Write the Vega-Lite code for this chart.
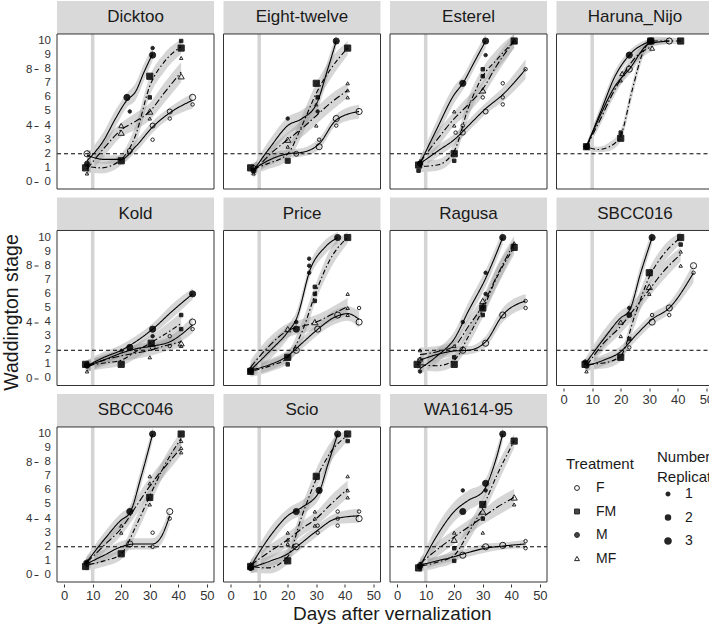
{
  "$schema": "https://vega.github.io/schema/vega-lite/v6.json",
  "padding": {"left": 2, "top": 1, "right": 2, "bottom": 2},
  "background": "white",
  "title": {"text": "Waddington stage", "orient": "left", "anchor": "middle", "fontSize": 19.5, "fontWeight": "normal", "font": "Liberation Sans", "color": "#1a1a1a", "offset": 3},
  "data": {"values": [
    {"k":"s","v":"Dicktoo"},{"k":"s","v":"Eight-twelve"},{"k":"s","v":"Esterel"},{"k":"s","v":"Haruna_Nijo"},
    {"k":"s","v":"Kold"},{"k":"s","v":"Price"},{"k":"s","v":"Ragusa"},{"k":"s","v":"SBCC016"},
    {"k":"s","v":"SBCC046"},{"k":"s","v":"Scio"},{"k":"s","v":"WA1614-95"},

    {"k":"y","v":"Dicktoo","yv":0},{"k":"y","v":"Dicktoo","yv":1},{"k":"y","v":"Dicktoo","yv":2},{"k":"y","v":"Dicktoo","yv":3},
    {"k":"y","v":"Dicktoo","yv":4},{"k":"y","v":"Dicktoo","yv":5},{"k":"y","v":"Dicktoo","yv":6},{"k":"y","v":"Dicktoo","yv":7},
    {"k":"y","v":"Dicktoo","yv":8},{"k":"y","v":"Dicktoo","yv":9},{"k":"y","v":"Dicktoo","yv":10},
    {"k":"y","v":"Kold","yv":0},{"k":"y","v":"Kold","yv":1},{"k":"y","v":"Kold","yv":2},{"k":"y","v":"Kold","yv":3},
    {"k":"y","v":"Kold","yv":4},{"k":"y","v":"Kold","yv":5},{"k":"y","v":"Kold","yv":6},{"k":"y","v":"Kold","yv":7},
    {"k":"y","v":"Kold","yv":8},{"k":"y","v":"Kold","yv":9},{"k":"y","v":"Kold","yv":10},
    {"k":"y","v":"SBCC046","yv":0},{"k":"y","v":"SBCC046","yv":1},{"k":"y","v":"SBCC046","yv":2},{"k":"y","v":"SBCC046","yv":3},
    {"k":"y","v":"SBCC046","yv":4},{"k":"y","v":"SBCC046","yv":5},{"k":"y","v":"SBCC046","yv":6},{"k":"y","v":"SBCC046","yv":7},
    {"k":"y","v":"SBCC046","yv":8},{"k":"y","v":"SBCC046","yv":9},{"k":"y","v":"SBCC046","yv":10},

    {"k":"p","v":"Dicktoo","t":"F","d":8,"s":2.0,"n":3},{"k":"p","v":"Dicktoo","t":"F","d":23,"s":2.2,"n":2},
    {"k":"p","v":"Dicktoo","t":"F","d":31,"s":4.0,"n":2},{"k":"p","v":"Dicktoo","t":"F","d":31,"s":3.0,"n":1},
    {"k":"p","v":"Dicktoo","t":"F","d":37,"s":5.0,"n":2},{"k":"p","v":"Dicktoo","t":"F","d":37,"s":4.5,"n":1},
    {"k":"p","v":"Dicktoo","t":"F","d":45,"s":6.0,"n":3},{"k":"p","v":"Dicktoo","t":"F","d":45,"s":5.5,"n":1},
    {"k":"p","v":"Dicktoo","t":"FM","d":7.5,"s":1.0,"n":3},{"k":"p","v":"Dicktoo","t":"FM","d":20,"s":1.5,"n":3},
    {"k":"p","v":"Dicktoo","t":"FM","d":30,"s":7.5,"n":3},{"k":"p","v":"Dicktoo","t":"FM","d":30,"s":6.0,"n":1},
    {"k":"p","v":"Dicktoo","t":"FM","d":41,"s":9.5,"n":3},{"k":"p","v":"Dicktoo","t":"FM","d":41,"s":10,"n":1},
    {"k":"p","v":"Dicktoo","t":"M","d":8,"s":1.3,"n":2},{"k":"p","v":"Dicktoo","t":"M","d":22,"s":6.0,"n":3},
    {"k":"p","v":"Dicktoo","t":"M","d":23,"s":5.0,"n":1},{"k":"p","v":"Dicktoo","t":"M","d":31,"s":9.0,"n":3},
    {"k":"p","v":"Dicktoo","t":"M","d":31,"s":9.5,"n":1},
    {"k":"p","v":"Dicktoo","t":"MF","d":8,"s":0.6,"n":1},{"k":"p","v":"Dicktoo","t":"MF","d":20,"s":4.0,"n":2},
    {"k":"p","v":"Dicktoo","t":"MF","d":20,"s":3.5,"n":3},{"k":"p","v":"Dicktoo","t":"MF","d":30,"s":5.0,"n":3},
    {"k":"p","v":"Dicktoo","t":"MF","d":30,"s":4.5,"n":1},{"k":"p","v":"Dicktoo","t":"MF","d":41,"s":8.8,"n":1},
    {"k":"p","v":"Dicktoo","t":"MF","d":41,"s":7.5,"n":3},

    {"k":"p","v":"Eight-twelve","t":"F","d":8,"s":1.0,"n":2},{"k":"p","v":"Eight-twelve","t":"F","d":23,"s":2.0,"n":2},
    {"k":"p","v":"Eight-twelve","t":"F","d":31,"s":2.5,"n":3},{"k":"p","v":"Eight-twelve","t":"F","d":31,"s":3.0,"n":1},
    {"k":"p","v":"Eight-twelve","t":"F","d":37,"s":4.5,"n":3},{"k":"p","v":"Eight-twelve","t":"F","d":37,"s":4.0,"n":1},
    {"k":"p","v":"Eight-twelve","t":"F","d":45,"s":5.0,"n":3},
    {"k":"p","v":"Eight-twelve","t":"FM","d":7,"s":1.0,"n":3},{"k":"p","v":"Eight-twelve","t":"FM","d":20,"s":1.5,"n":2},
    {"k":"p","v":"Eight-twelve","t":"FM","d":30,"s":7.0,"n":3},{"k":"p","v":"Eight-twelve","t":"FM","d":30.5,"s":6.0,"n":1},
    {"k":"p","v":"Eight-twelve","t":"FM","d":41,"s":9.5,"n":3},
    {"k":"p","v":"Eight-twelve","t":"M","d":8,"s":0.8,"n":2},{"k":"p","v":"Eight-twelve","t":"M","d":20,"s":4.5,"n":1},
    {"k":"p","v":"Eight-twelve","t":"M","d":30.5,"s":5.0,"n":1},{"k":"p","v":"Eight-twelve","t":"M","d":37,"s":10,"n":3},
    {"k":"p","v":"Eight-twelve","t":"MF","d":8,"s":0.6,"n":1},{"k":"p","v":"Eight-twelve","t":"MF","d":20,"s":3.0,"n":3},
    {"k":"p","v":"Eight-twelve","t":"MF","d":20,"s":2.5,"n":1},{"k":"p","v":"Eight-twelve","t":"MF","d":30,"s":4.0,"n":1},
    {"k":"p","v":"Eight-twelve","t":"MF","d":30,"s":5.5,"n":1},{"k":"p","v":"Eight-twelve","t":"MF","d":41,"s":7.0,"n":1},
    {"k":"p","v":"Eight-twelve","t":"MF","d":41,"s":6.5,"n":1},{"k":"p","v":"Eight-twelve","t":"MF","d":41,"s":6.0,"n":1},

    {"k":"p","v":"Esterel","t":"F","d":8,"s":1.3,"n":2},{"k":"p","v":"Esterel","t":"F","d":20.5,"s":3.5,"n":1},
    {"k":"p","v":"Esterel","t":"F","d":23,"s":3.5,"n":2},{"k":"p","v":"Esterel","t":"F","d":23,"s":4.0,"n":1},
    {"k":"p","v":"Esterel","t":"F","d":30,"s":6.0,"n":1},{"k":"p","v":"Esterel","t":"F","d":31,"s":5.0,"n":2},
    {"k":"p","v":"Esterel","t":"F","d":37,"s":7.0,"n":1},{"k":"p","v":"Esterel","t":"F","d":37,"s":6.0,"n":1},
    {"k":"p","v":"Esterel","t":"F","d":37,"s":5.5,"n":1},{"k":"p","v":"Esterel","t":"F","d":45,"s":8.0,"n":1},
    {"k":"p","v":"Esterel","t":"FM","d":7.5,"s":1.2,"n":3},{"k":"p","v":"Esterel","t":"FM","d":7.5,"s":0.8,"n":1},
    {"k":"p","v":"Esterel","t":"FM","d":20,"s":2.0,"n":3},{"k":"p","v":"Esterel","t":"FM","d":20,"s":1.5,"n":1},
    {"k":"p","v":"Esterel","t":"FM","d":30,"s":8.0,"n":1},{"k":"p","v":"Esterel","t":"FM","d":30,"s":7.5,"n":1},
    {"k":"p","v":"Esterel","t":"FM","d":41,"s":10,"n":3},
    {"k":"p","v":"Esterel","t":"M","d":8,"s":1.3,"n":2},{"k":"p","v":"Esterel","t":"M","d":23,"s":7.0,"n":3},
    {"k":"p","v":"Esterel","t":"M","d":31,"s":10,"n":3},{"k":"p","v":"Esterel","t":"M","d":31,"s":9.0,"n":1},
    {"k":"p","v":"Esterel","t":"MF","d":8,"s":1.5,"n":1},{"k":"p","v":"Esterel","t":"MF","d":20,"s":5.0,"n":1},
    {"k":"p","v":"Esterel","t":"MF","d":20,"s":4.0,"n":1},{"k":"p","v":"Esterel","t":"MF","d":30,"s":6.5,"n":3},
    {"k":"p","v":"Esterel","t":"MF","d":41,"s":10,"n":2},

    {"k":"p","v":"Haruna_Nijo","t":"F","d":8,"s":2.5,"n":2},{"k":"p","v":"Haruna_Nijo","t":"F","d":23,"s":8.0,"n":3},
    {"k":"p","v":"Haruna_Nijo","t":"F","d":37,"s":10,"n":3},
    {"k":"p","v":"Haruna_Nijo","t":"FM","d":8,"s":2.5,"n":3},{"k":"p","v":"Haruna_Nijo","t":"FM","d":20,"s":3.1,"n":3},
    {"k":"p","v":"Haruna_Nijo","t":"FM","d":20,"s":3.5,"n":1},{"k":"p","v":"Haruna_Nijo","t":"FM","d":30.5,"s":10,"n":3},
    {"k":"p","v":"Haruna_Nijo","t":"FM","d":41,"s":10,"n":3},
    {"k":"p","v":"Haruna_Nijo","t":"M","d":8,"s":2.5,"n":2},{"k":"p","v":"Haruna_Nijo","t":"M","d":23,"s":9.0,"n":3},
    {"k":"p","v":"Haruna_Nijo","t":"M","d":30.5,"s":10,"n":3},
    {"k":"p","v":"Haruna_Nijo","t":"MF","d":8,"s":2.5,"n":1},{"k":"p","v":"Haruna_Nijo","t":"MF","d":20,"s":7.2,"n":1},
    {"k":"p","v":"Haruna_Nijo","t":"MF","d":20.5,"s":7.7,"n":2},{"k":"p","v":"Haruna_Nijo","t":"MF","d":31,"s":9.5,"n":2},

    {"k":"p","v":"Kold","t":"F","d":8,"s":1.0,"n":2},{"k":"p","v":"Kold","t":"F","d":31,"s":2.2,"n":2},
    {"k":"p","v":"Kold","t":"F","d":37,"s":3.0,"n":1},{"k":"p","v":"Kold","t":"F","d":37,"s":2.3,"n":1},
    {"k":"p","v":"Kold","t":"F","d":45,"s":4.0,"n":3},{"k":"p","v":"Kold","t":"F","d":45,"s":3.5,"n":1},
    {"k":"p","v":"Kold","t":"FM","d":7.5,"s":1.0,"n":3},{"k":"p","v":"Kold","t":"FM","d":20,"s":1.0,"n":3},
    {"k":"p","v":"Kold","t":"FM","d":30.5,"s":2.5,"n":3},{"k":"p","v":"Kold","t":"FM","d":41,"s":4.5,"n":1},
    {"k":"p","v":"Kold","t":"FM","d":41,"s":3.5,"n":1},
    {"k":"p","v":"Kold","t":"M","d":8,"s":0.9,"n":2},{"k":"p","v":"Kold","t":"M","d":23,"s":2.2,"n":3},
    {"k":"p","v":"Kold","t":"M","d":31,"s":3.5,"n":3},{"k":"p","v":"Kold","t":"M","d":31,"s":3.0,"n":1},
    {"k":"p","v":"Kold","t":"M","d":45,"s":6.0,"n":3},
    {"k":"p","v":"Kold","t":"MF","d":8,"s":0.5,"n":1},{"k":"p","v":"Kold","t":"MF","d":20,"s":2.0,"n":1},
    {"k":"p","v":"Kold","t":"MF","d":30,"s":1.5,"n":1},{"k":"p","v":"Kold","t":"MF","d":41,"s":2.5,"n":3},
    {"k":"p","v":"Kold","t":"MF","d":41,"s":2.3,"n":1},

    {"k":"p","v":"Price","t":"F","d":7,"s":0.6,"n":2},{"k":"p","v":"Price","t":"F","d":23,"s":2.0,"n":3},
    {"k":"p","v":"Price","t":"F","d":30.5,"s":3.5,"n":3},{"k":"p","v":"Price","t":"F","d":37.5,"s":4.5,"n":3},
    {"k":"p","v":"Price","t":"F","d":45,"s":4.0,"n":3},{"k":"p","v":"Price","t":"F","d":45,"s":5.0,"n":1},
    {"k":"p","v":"Price","t":"FM","d":7,"s":0.5,"n":3},{"k":"p","v":"Price","t":"FM","d":20,"s":1.5,"n":3},
    {"k":"p","v":"Price","t":"FM","d":20,"s":1.0,"n":1},{"k":"p","v":"Price","t":"FM","d":29.5,"s":6.5,"n":1},
    {"k":"p","v":"Price","t":"FM","d":29.5,"s":6.0,"n":1},{"k":"p","v":"Price","t":"FM","d":29.5,"s":5.5,"n":1},
    {"k":"p","v":"Price","t":"FM","d":41,"s":10,"n":3},
    {"k":"p","v":"Price","t":"M","d":7,"s":0.5,"n":2},{"k":"p","v":"Price","t":"M","d":23,"s":4.0,"n":1},
    {"k":"p","v":"Price","t":"M","d":23,"s":3.5,"n":3},{"k":"p","v":"Price","t":"M","d":27.5,"s":8.5,"n":1},
    {"k":"p","v":"Price","t":"M","d":27.5,"s":8.0,"n":1},{"k":"p","v":"Price","t":"M","d":27.5,"s":7.5,"n":1},
    {"k":"p","v":"Price","t":"M","d":37.5,"s":10,"n":3},
    {"k":"p","v":"Price","t":"MF","d":7,"s":0.7,"n":1},{"k":"p","v":"Price","t":"MF","d":20,"s":3.5,"n":3},
    {"k":"p","v":"Price","t":"MF","d":29.5,"s":4.0,"n":3},{"k":"p","v":"Price","t":"MF","d":41,"s":6.0,"n":1},
    {"k":"p","v":"Price","t":"MF","d":41,"s":5.0,"n":1},{"k":"p","v":"Price","t":"MF","d":41,"s":4.5,"n":1},

    {"k":"p","v":"Ragusa","t":"F","d":8,"s":1.3,"n":2},{"k":"p","v":"Ragusa","t":"F","d":23,"s":2.0,"n":3},
    {"k":"p","v":"Ragusa","t":"F","d":31,"s":2.5,"n":3},{"k":"p","v":"Ragusa","t":"F","d":37,"s":4.5,"n":3},
    {"k":"p","v":"Ragusa","t":"F","d":45,"s":5.5,"n":1},{"k":"p","v":"Ragusa","t":"F","d":45,"s":5.0,"n":1},
    {"k":"p","v":"Ragusa","t":"FM","d":7,"s":1.0,"n":3},{"k":"p","v":"Ragusa","t":"FM","d":20,"s":1.5,"n":1},
    {"k":"p","v":"Ragusa","t":"FM","d":20,"s":1.0,"n":3},{"k":"p","v":"Ragusa","t":"FM","d":30,"s":5.0,"n":3},
    {"k":"p","v":"Ragusa","t":"FM","d":30,"s":4.5,"n":1},{"k":"p","v":"Ragusa","t":"FM","d":41,"s":9.3,"n":3},
    {"k":"p","v":"Ragusa","t":"M","d":8,"s":0.5,"n":1},{"k":"p","v":"Ragusa","t":"M","d":23,"s":4.0,"n":1},
    {"k":"p","v":"Ragusa","t":"M","d":31,"s":7.5,"n":1},{"k":"p","v":"Ragusa","t":"M","d":31,"s":6.0,"n":1},
    {"k":"p","v":"Ragusa","t":"M","d":37,"s":10,"n":3},
    {"k":"p","v":"Ragusa","t":"MF","d":8,"s":2.0,"n":1},{"k":"p","v":"Ragusa","t":"MF","d":8,"s":1.4,"n":1},
    {"k":"p","v":"Ragusa","t":"MF","d":20,"s":2.3,"n":1},{"k":"p","v":"Ragusa","t":"MF","d":30,"s":5.5,"n":3},
    {"k":"p","v":"Ragusa","t":"MF","d":41,"s":9.6,"n":1},

    {"k":"p","v":"SBCC016","t":"F","d":8,"s":0.9,"n":2},{"k":"p","v":"SBCC016","t":"F","d":23,"s":2.2,"n":1},
    {"k":"p","v":"SBCC016","t":"F","d":31,"s":4.0,"n":3},{"k":"p","v":"SBCC016","t":"F","d":31,"s":4.5,"n":1},
    {"k":"p","v":"SBCC016","t":"F","d":37,"s":5.0,"n":3},{"k":"p","v":"SBCC016","t":"F","d":37,"s":4.5,"n":1},
    {"k":"p","v":"SBCC016","t":"F","d":45.5,"s":8.0,"n":3},{"k":"p","v":"SBCC016","t":"F","d":45.5,"s":7.5,"n":1},
    {"k":"p","v":"SBCC016","t":"FM","d":7.5,"s":1.0,"n":3},{"k":"p","v":"SBCC016","t":"FM","d":20,"s":1.5,"n":3},
    {"k":"p","v":"SBCC016","t":"FM","d":23,"s":2.8,"n":1},{"k":"p","v":"SBCC016","t":"FM","d":30,"s":7.5,"n":3},
    {"k":"p","v":"SBCC016","t":"FM","d":41,"s":10,"n":3},{"k":"p","v":"SBCC016","t":"FM","d":41,"s":9.5,"n":1},
    {"k":"p","v":"SBCC016","t":"M","d":7.5,"s":1.2,"n":1},{"k":"p","v":"SBCC016","t":"M","d":23,"s":5.0,"n":1},
    {"k":"p","v":"SBCC016","t":"M","d":23,"s":4.5,"n":2},{"k":"p","v":"SBCC016","t":"M","d":31,"s":10,"n":3},
    {"k":"p","v":"SBCC016","t":"MF","d":8,"s":0.5,"n":1},{"k":"p","v":"SBCC016","t":"MF","d":20,"s":4.0,"n":2},
    {"k":"p","v":"SBCC016","t":"MF","d":20,"s":3.0,"n":1},{"k":"p","v":"SBCC016","t":"MF","d":30,"s":6.5,"n":3},
    {"k":"p","v":"SBCC016","t":"MF","d":30,"s":6.0,"n":1},{"k":"p","v":"SBCC016","t":"MF","d":41,"s":9.0,"n":1},
    {"k":"p","v":"SBCC016","t":"MF","d":41,"s":8.0,"n":1},

    {"k":"p","v":"SBCC046","t":"F","d":8,"s":0.8,"n":2},{"k":"p","v":"SBCC046","t":"F","d":23,"s":2.2,"n":3},
    {"k":"p","v":"SBCC046","t":"F","d":31,"s":3.0,"n":1},{"k":"p","v":"SBCC046","t":"F","d":31,"s":2.0,"n":1},
    {"k":"p","v":"SBCC046","t":"F","d":37,"s":4.5,"n":3},{"k":"p","v":"SBCC046","t":"F","d":37,"s":4.0,"n":1},
    {"k":"p","v":"SBCC046","t":"FM","d":7.5,"s":0.6,"n":3},{"k":"p","v":"SBCC046","t":"FM","d":20,"s":1.5,"n":3},
    {"k":"p","v":"SBCC046","t":"FM","d":30,"s":5.5,"n":3},{"k":"p","v":"SBCC046","t":"FM","d":41,"s":10,"n":3},
    {"k":"p","v":"SBCC046","t":"M","d":7.5,"s":0.9,"n":1},{"k":"p","v":"SBCC046","t":"M","d":23,"s":4.5,"n":3},
    {"k":"p","v":"SBCC046","t":"M","d":31,"s":10,"n":3},
    {"k":"p","v":"SBCC046","t":"MF","d":8,"s":1.0,"n":1},{"k":"p","v":"SBCC046","t":"MF","d":20,"s":3.5,"n":1},
    {"k":"p","v":"SBCC046","t":"MF","d":20,"s":3.0,"n":1},{"k":"p","v":"SBCC046","t":"MF","d":30,"s":7.0,"n":1},
    {"k":"p","v":"SBCC046","t":"MF","d":30,"s":6.5,"n":1},{"k":"p","v":"SBCC046","t":"MF","d":30,"s":5.0,"n":1},
    {"k":"p","v":"SBCC046","t":"MF","d":41,"s":9.5,"n":1},{"k":"p","v":"SBCC046","t":"MF","d":41,"s":9.0,"n":1},
    {"k":"p","v":"SBCC046","t":"MF","d":41,"s":8.7,"n":1},

    {"k":"p","v":"Scio","t":"F","d":7,"s":0.5,"n":2},{"k":"p","v":"Scio","t":"F","d":23,"s":2.0,"n":3},
    {"k":"p","v":"Scio","t":"F","d":30.5,"s":3.5,"n":1},{"k":"p","v":"Scio","t":"F","d":30.5,"s":3.0,"n":1},
    {"k":"p","v":"Scio","t":"F","d":37.5,"s":4.5,"n":1},{"k":"p","v":"Scio","t":"F","d":37.5,"s":4.0,"n":1},
    {"k":"p","v":"Scio","t":"F","d":37.5,"s":3.5,"n":1},{"k":"p","v":"Scio","t":"F","d":45,"s":4.0,"n":3},
    {"k":"p","v":"Scio","t":"F","d":45,"s":4.5,"n":1},
    {"k":"p","v":"Scio","t":"FM","d":7,"s":0.6,"n":3},{"k":"p","v":"Scio","t":"FM","d":20,"s":1.0,"n":3},
    {"k":"p","v":"Scio","t":"FM","d":30,"s":7.0,"n":3},{"k":"p","v":"Scio","t":"FM","d":41,"s":10,"n":3},
    {"k":"p","v":"Scio","t":"FM","d":41,"s":9.5,"n":1},
    {"k":"p","v":"Scio","t":"M","d":7,"s":0.5,"n":2},{"k":"p","v":"Scio","t":"M","d":23,"s":4.5,"n":3},
    {"k":"p","v":"Scio","t":"M","d":31,"s":6.0,"n":3},{"k":"p","v":"Scio","t":"M","d":37.5,"s":10,"n":3},
    {"k":"p","v":"Scio","t":"MF","d":7,"s":0.8,"n":1},{"k":"p","v":"Scio","t":"MF","d":20,"s":3.0,"n":1},
    {"k":"p","v":"Scio","t":"MF","d":20,"s":2.5,"n":1},{"k":"p","v":"Scio","t":"MF","d":20,"s":2.2,"n":1},
    {"k":"p","v":"Scio","t":"MF","d":29.5,"s":4.5,"n":1},{"k":"p","v":"Scio","t":"MF","d":29.5,"s":4.0,"n":1},
    {"k":"p","v":"Scio","t":"MF","d":29.5,"s":3.5,"n":1},{"k":"p","v":"Scio","t":"MF","d":41,"s":7.0,"n":1},
    {"k":"p","v":"Scio","t":"MF","d":41,"s":6.0,"n":1},{"k":"p","v":"Scio","t":"MF","d":41,"s":5.5,"n":1},

    {"k":"p","v":"WA1614-95","t":"F","d":8,"s":0.7,"n":2},{"k":"p","v":"WA1614-95","t":"F","d":23,"s":1.4,"n":3},
    {"k":"p","v":"WA1614-95","t":"F","d":31,"s":2.0,"n":3},{"k":"p","v":"WA1614-95","t":"F","d":37,"s":2.1,"n":3},
    {"k":"p","v":"WA1614-95","t":"F","d":45,"s":2.4,"n":1},{"k":"p","v":"WA1614-95","t":"F","d":45,"s":1.9,"n":1},
    {"k":"p","v":"WA1614-95","t":"FM","d":7.5,"s":0.5,"n":3},{"k":"p","v":"WA1614-95","t":"FM","d":20,"s":1.9,"n":1},
    {"k":"p","v":"WA1614-95","t":"FM","d":20,"s":1.0,"n":1},{"k":"p","v":"WA1614-95","t":"FM","d":30,"s":5.0,"n":3},
    {"k":"p","v":"WA1614-95","t":"FM","d":30,"s":4.0,"n":1},{"k":"p","v":"WA1614-95","t":"FM","d":41,"s":9.5,"n":3},
    {"k":"p","v":"WA1614-95","t":"M","d":8,"s":0.6,"n":2},{"k":"p","v":"WA1614-95","t":"M","d":23,"s":4.5,"n":3},
    {"k":"p","v":"WA1614-95","t":"M","d":23,"s":6.0,"n":1},{"k":"p","v":"WA1614-95","t":"M","d":31,"s":6.5,"n":3},
    {"k":"p","v":"WA1614-95","t":"M","d":31,"s":6.0,"n":1},{"k":"p","v":"WA1614-95","t":"M","d":37,"s":10,"n":3},
    {"k":"p","v":"WA1614-95","t":"MF","d":8,"s":0.8,"n":1},{"k":"p","v":"WA1614-95","t":"MF","d":20,"s":3.0,"n":1},
    {"k":"p","v":"WA1614-95","t":"MF","d":20,"s":2.5,"n":3},{"k":"p","v":"WA1614-95","t":"MF","d":30,"s":4.5,"n":3},
    {"k":"p","v":"WA1614-95","t":"MF","d":30,"s":3.0,"n":1},{"k":"p","v":"WA1614-95","t":"MF","d":41,"s":5.5,"n":3},
    {"k":"p","v":"WA1614-95","t":"MF","d":41,"s":5.0,"n":1},

    {"k":"f","v":"Dicktoo","t":"F","d":8,"f":1.9,"lo":1.5,"hi":2.3},{"k":"f","v":"Dicktoo","t":"F","d":14,"f":1.6,"lo":1.3,"hi":1.9},
    {"k":"f","v":"Dicktoo","t":"F","d":20,"f":1.6,"lo":1.3,"hi":1.9},{"k":"f","v":"Dicktoo","t":"F","d":25,"f":2.5,"lo":2.1,"hi":2.9},
    {"k":"f","v":"Dicktoo","t":"F","d":31,"f":3.9,"lo":3.5,"hi":4.3},{"k":"f","v":"Dicktoo","t":"F","d":37,"f":4.9,"lo":4.5,"hi":5.3},
    {"k":"f","v":"Dicktoo","t":"F","d":45,"f":5.8,"lo":5.2,"hi":6.3},
    {"k":"f","v":"Dicktoo","t":"FM","d":8,"f":1.1,"lo":0.7,"hi":1.5},{"k":"f","v":"Dicktoo","t":"FM","d":13,"f":1.0,"lo":0.6,"hi":1.4},
    {"k":"f","v":"Dicktoo","t":"FM","d":20,"f":1.6,"lo":1.2,"hi":2.0},{"k":"f","v":"Dicktoo","t":"FM","d":25,"f":3.3,"lo":2.6,"hi":4.0},
    {"k":"f","v":"Dicktoo","t":"FM","d":30,"f":6.8,"lo":6.1,"hi":7.5},{"k":"f","v":"Dicktoo","t":"FM","d":35,"f":8.5,"lo":7.8,"hi":9.1},
    {"k":"f","v":"Dicktoo","t":"FM","d":41,"f":9.6,"lo":9.1,"hi":10.1},
    {"k":"f","v":"Dicktoo","t":"M","d":8,"f":1.5,"lo":1.0,"hi":2.0},{"k":"f","v":"Dicktoo","t":"M","d":14,"f":3.0,"lo":2.4,"hi":3.6},
    {"k":"f","v":"Dicktoo","t":"M","d":18,"f":4.5,"lo":3.9,"hi":5.1},{"k":"f","v":"Dicktoo","t":"M","d":22,"f":5.8,"lo":5.3,"hi":6.3},
    {"k":"f","v":"Dicktoo","t":"M","d":25,"f":6.4,"lo":5.8,"hi":7.0},{"k":"f","v":"Dicktoo","t":"M","d":28,"f":7.8,"lo":7.2,"hi":8.4},
    {"k":"f","v":"Dicktoo","t":"M","d":31,"f":9.1,"lo":8.6,"hi":9.6},
    {"k":"f","v":"Dicktoo","t":"MF","d":8,"f":0.9,"lo":0.4,"hi":1.4},{"k":"f","v":"Dicktoo","t":"MF","d":14,"f":2.4,"lo":1.8,"hi":3.0},
    {"k":"f","v":"Dicktoo","t":"MF","d":20,"f":3.7,"lo":3.2,"hi":4.2},{"k":"f","v":"Dicktoo","t":"MF","d":25,"f":4.3,"lo":3.7,"hi":4.9},
    {"k":"f","v":"Dicktoo","t":"MF","d":30,"f":5.0,"lo":4.4,"hi":5.6},{"k":"f","v":"Dicktoo","t":"MF","d":35,"f":6.3,"lo":5.6,"hi":7.0},
    {"k":"f","v":"Dicktoo","t":"MF","d":41,"f":7.8,"lo":7.1,"hi":8.5},

    {"k":"f","v":"Eight-twelve","t":"F","d":8,"f":0.9,"lo":0.6,"hi":1.3},{"k":"f","v":"Eight-twelve","t":"F","d":14,"f":1.6,"lo":1.2,"hi":2.0},
    {"k":"f","v":"Eight-twelve","t":"F","d":20,"f":2.0,"lo":1.7,"hi":2.3},{"k":"f","v":"Eight-twelve","t":"F","d":25,"f":2.1,"lo":1.8,"hi":2.4},
    {"k":"f","v":"Eight-twelve","t":"F","d":31,"f":2.7,"lo":2.3,"hi":3.1},{"k":"f","v":"Eight-twelve","t":"F","d":37,"f":4.4,"lo":4.0,"hi":4.8},
    {"k":"f","v":"Eight-twelve","t":"F","d":45,"f":5.0,"lo":4.5,"hi":5.5},
    {"k":"f","v":"Eight-twelve","t":"FM","d":7,"f":0.9,"lo":0.5,"hi":1.3},{"k":"f","v":"Eight-twelve","t":"FM","d":13,"f":1.3,"lo":0.9,"hi":1.7},
    {"k":"f","v":"Eight-twelve","t":"FM","d":20,"f":2.0,"lo":1.5,"hi":2.5},{"k":"f","v":"Eight-twelve","t":"FM","d":25,"f":4.0,"lo":3.3,"hi":4.7},
    {"k":"f","v":"Eight-twelve","t":"FM","d":30,"f":6.3,"lo":5.6,"hi":7.0},{"k":"f","v":"Eight-twelve","t":"FM","d":35,"f":8.0,"lo":7.3,"hi":8.7},
    {"k":"f","v":"Eight-twelve","t":"FM","d":41,"f":9.5,"lo":9.0,"hi":10.0},
    {"k":"f","v":"Eight-twelve","t":"M","d":8,"f":0.8,"lo":0.4,"hi":1.2},{"k":"f","v":"Eight-twelve","t":"M","d":14,"f":2.5,"lo":1.9,"hi":3.1},
    {"k":"f","v":"Eight-twelve","t":"M","d":20,"f":4.0,"lo":3.4,"hi":4.6},{"k":"f","v":"Eight-twelve","t":"M","d":25,"f":4.5,"lo":3.9,"hi":5.1},
    {"k":"f","v":"Eight-twelve","t":"M","d":30,"f":5.5,"lo":4.9,"hi":6.1},{"k":"f","v":"Eight-twelve","t":"M","d":34,"f":8.0,"lo":7.4,"hi":8.6},
    {"k":"f","v":"Eight-twelve","t":"M","d":37,"f":10,"lo":9.5,"hi":10.5},
    {"k":"f","v":"Eight-twelve","t":"MF","d":8,"f":0.7,"lo":0.3,"hi":1.1},{"k":"f","v":"Eight-twelve","t":"MF","d":14,"f":2.0,"lo":1.5,"hi":2.5},
    {"k":"f","v":"Eight-twelve","t":"MF","d":20,"f":3.0,"lo":2.5,"hi":3.5},{"k":"f","v":"Eight-twelve","t":"MF","d":25,"f":3.8,"lo":3.2,"hi":4.4},
    {"k":"f","v":"Eight-twelve","t":"MF","d":30,"f":4.7,"lo":4.1,"hi":5.3},{"k":"f","v":"Eight-twelve","t":"MF","d":35,"f":5.6,"lo":5.0,"hi":6.2},
    {"k":"f","v":"Eight-twelve","t":"MF","d":41,"f":6.5,"lo":6.0,"hi":7.0},

    {"k":"f","v":"Esterel","t":"F","d":8,"f":1.3,"lo":0.9,"hi":1.7},{"k":"f","v":"Esterel","t":"F","d":15,"f":2.3,"lo":1.9,"hi":2.7},
    {"k":"f","v":"Esterel","t":"F","d":20,"f":3.0,"lo":2.6,"hi":3.4},{"k":"f","v":"Esterel","t":"F","d":25,"f":4.0,"lo":3.6,"hi":4.4},
    {"k":"f","v":"Esterel","t":"F","d":31,"f":5.2,"lo":4.8,"hi":5.6},{"k":"f","v":"Esterel","t":"F","d":37,"f":6.2,"lo":5.7,"hi":6.7},
    {"k":"f","v":"Esterel","t":"F","d":45,"f":8.0,"lo":7.3,"hi":8.7},
    {"k":"f","v":"Esterel","t":"FM","d":8,"f":1.1,"lo":0.7,"hi":1.5},{"k":"f","v":"Esterel","t":"FM","d":14,"f":1.2,"lo":0.8,"hi":1.6},
    {"k":"f","v":"Esterel","t":"FM","d":20,"f":2.2,"lo":1.7,"hi":2.7},{"k":"f","v":"Esterel","t":"FM","d":25,"f":5.3,"lo":4.6,"hi":6.0},
    {"k":"f","v":"Esterel","t":"FM","d":30,"f":7.5,"lo":6.9,"hi":8.1},{"k":"f","v":"Esterel","t":"FM","d":35,"f":8.7,"lo":8.0,"hi":9.4},
    {"k":"f","v":"Esterel","t":"FM","d":41,"f":10,"lo":9.5,"hi":10.5},
    {"k":"f","v":"Esterel","t":"M","d":8,"f":1.3,"lo":0.9,"hi":1.7},{"k":"f","v":"Esterel","t":"M","d":14,"f":3.8,"lo":3.2,"hi":4.4},
    {"k":"f","v":"Esterel","t":"M","d":20,"f":6.2,"lo":5.6,"hi":6.8},{"k":"f","v":"Esterel","t":"M","d":23,"f":7.0,"lo":6.5,"hi":7.5},
    {"k":"f","v":"Esterel","t":"M","d":27,"f":8.5,"lo":8.0,"hi":9.0},{"k":"f","v":"Esterel","t":"M","d":31,"f":10,"lo":9.5,"hi":10.5},
    {"k":"f","v":"Esterel","t":"MF","d":8,"f":1.4,"lo":1.0,"hi":1.8},{"k":"f","v":"Esterel","t":"MF","d":14,"f":3.0,"lo":2.4,"hi":3.6},
    {"k":"f","v":"Esterel","t":"MF","d":20,"f":4.5,"lo":4.0,"hi":5.0},{"k":"f","v":"Esterel","t":"MF","d":25,"f":5.5,"lo":4.9,"hi":6.1},
    {"k":"f","v":"Esterel","t":"MF","d":30,"f":6.6,"lo":6.1,"hi":7.1},{"k":"f","v":"Esterel","t":"MF","d":35,"f":8.3,"lo":7.7,"hi":8.9},
    {"k":"f","v":"Esterel","t":"MF","d":41,"f":10,"lo":9.5,"hi":10.5},

    {"k":"f","v":"Haruna_Nijo","t":"F","d":8,"f":2.5,"lo":2.3,"hi":2.7},{"k":"f","v":"Haruna_Nijo","t":"F","d":13,"f":4.8,"lo":4.4,"hi":5.2},
    {"k":"f","v":"Haruna_Nijo","t":"F","d":18,"f":6.8,"lo":6.4,"hi":7.2},{"k":"f","v":"Haruna_Nijo","t":"F","d":23,"f":8.0,"lo":7.6,"hi":8.4},
    {"k":"f","v":"Haruna_Nijo","t":"F","d":30,"f":9.8,"lo":9.5,"hi":10.1},{"k":"f","v":"Haruna_Nijo","t":"F","d":37,"f":10,"lo":9.8,"hi":10.2},
    {"k":"f","v":"Haruna_Nijo","t":"FM","d":8,"f":2.5,"lo":2.3,"hi":2.7},{"k":"f","v":"Haruna_Nijo","t":"FM","d":12,"f":2.3,"lo":2.1,"hi":2.5},
    {"k":"f","v":"Haruna_Nijo","t":"FM","d":16,"f":2.5,"lo":2.2,"hi":2.8},{"k":"f","v":"Haruna_Nijo","t":"FM","d":20,"f":3.3,"lo":2.9,"hi":3.7},
    {"k":"f","v":"Haruna_Nijo","t":"FM","d":24,"f":6.5,"lo":6.0,"hi":7.0},{"k":"f","v":"Haruna_Nijo","t":"FM","d":28,"f":9.3,"lo":8.9,"hi":9.7},
    {"k":"f","v":"Haruna_Nijo","t":"FM","d":31,"f":10,"lo":9.7,"hi":10.3},{"k":"f","v":"Haruna_Nijo","t":"FM","d":41,"f":10,"lo":9.8,"hi":10.2},
    {"k":"f","v":"Haruna_Nijo","t":"M","d":8,"f":2.5,"lo":2.3,"hi":2.7},{"k":"f","v":"Haruna_Nijo","t":"M","d":13,"f":5.0,"lo":4.6,"hi":5.4},
    {"k":"f","v":"Haruna_Nijo","t":"M","d":18,"f":7.5,"lo":7.1,"hi":7.9},{"k":"f","v":"Haruna_Nijo","t":"M","d":23,"f":9.0,"lo":8.7,"hi":9.3},
    {"k":"f","v":"Haruna_Nijo","t":"M","d":30.5,"f":10,"lo":9.8,"hi":10.2},
    {"k":"f","v":"Haruna_Nijo","t":"MF","d":8,"f":2.5,"lo":2.3,"hi":2.7},{"k":"f","v":"Haruna_Nijo","t":"MF","d":13,"f":4.5,"lo":4.1,"hi":4.9},
    {"k":"f","v":"Haruna_Nijo","t":"MF","d":17,"f":6.2,"lo":5.8,"hi":6.6},{"k":"f","v":"Haruna_Nijo","t":"MF","d":20,"f":7.3,"lo":6.9,"hi":7.7},
    {"k":"f","v":"Haruna_Nijo","t":"MF","d":25,"f":8.8,"lo":8.4,"hi":9.2},{"k":"f","v":"Haruna_Nijo","t":"MF","d":31,"f":9.6,"lo":9.3,"hi":9.9},

    {"k":"f","v":"Kold","t":"F","d":8,"f":0.9,"lo":0.5,"hi":1.3},{"k":"f","v":"Kold","t":"F","d":15,"f":1.4,"lo":1.1,"hi":1.7},
    {"k":"f","v":"Kold","t":"F","d":20,"f":1.8,"lo":1.5,"hi":2.1},{"k":"f","v":"Kold","t":"F","d":25,"f":2.1,"lo":1.8,"hi":2.4},
    {"k":"f","v":"Kold","t":"F","d":31,"f":2.3,"lo":2.0,"hi":2.6},{"k":"f","v":"Kold","t":"F","d":37,"f":2.6,"lo":2.2,"hi":3.0},
    {"k":"f","v":"Kold","t":"F","d":45,"f":3.8,"lo":3.2,"hi":4.4},
    {"k":"f","v":"Kold","t":"FM","d":7.5,"f":0.9,"lo":0.5,"hi":1.3},{"k":"f","v":"Kold","t":"FM","d":14,"f":1.1,"lo":0.7,"hi":1.5},
    {"k":"f","v":"Kold","t":"FM","d":20,"f":1.3,"lo":0.9,"hi":1.7},{"k":"f","v":"Kold","t":"FM","d":25,"f":1.9,"lo":1.4,"hi":2.4},
    {"k":"f","v":"Kold","t":"FM","d":30,"f":2.5,"lo":2.0,"hi":3.0},{"k":"f","v":"Kold","t":"FM","d":35,"f":3.1,"lo":2.5,"hi":3.7},
    {"k":"f","v":"Kold","t":"FM","d":41,"f":3.9,"lo":3.1,"hi":4.7},
    {"k":"f","v":"Kold","t":"M","d":8,"f":0.9,"lo":0.5,"hi":1.3},{"k":"f","v":"Kold","t":"M","d":14,"f":1.5,"lo":1.1,"hi":1.9},
    {"k":"f","v":"Kold","t":"M","d":20,"f":2.0,"lo":1.6,"hi":2.4},{"k":"f","v":"Kold","t":"M","d":25,"f":2.6,"lo":2.2,"hi":3.0},
    {"k":"f","v":"Kold","t":"M","d":31,"f":3.5,"lo":3.1,"hi":3.9},{"k":"f","v":"Kold","t":"M","d":38,"f":4.8,"lo":4.3,"hi":5.3},
    {"k":"f","v":"Kold","t":"M","d":45,"f":6.0,"lo":5.6,"hi":6.4},
    {"k":"f","v":"Kold","t":"MF","d":8,"f":0.8,"lo":0.4,"hi":1.2},{"k":"f","v":"Kold","t":"MF","d":14,"f":1.3,"lo":0.9,"hi":1.7},
    {"k":"f","v":"Kold","t":"MF","d":20,"f":1.6,"lo":1.2,"hi":2.0},{"k":"f","v":"Kold","t":"MF","d":25,"f":1.8,"lo":1.4,"hi":2.2},
    {"k":"f","v":"Kold","t":"MF","d":30,"f":2.0,"lo":1.6,"hi":2.4},{"k":"f","v":"Kold","t":"MF","d":35,"f":2.3,"lo":1.9,"hi":2.7},
    {"k":"f","v":"Kold","t":"MF","d":41,"f":2.6,"lo":2.2,"hi":3.0},

    {"k":"f","v":"Price","t":"F","d":7,"f":0.6,"lo":0.2,"hi":1.0},{"k":"f","v":"Price","t":"F","d":14,"f":1.0,"lo":0.6,"hi":1.4},
    {"k":"f","v":"Price","t":"F","d":20,"f":1.6,"lo":1.2,"hi":2.0},{"k":"f","v":"Price","t":"F","d":25,"f":2.5,"lo":2.1,"hi":2.9},
    {"k":"f","v":"Price","t":"F","d":30,"f":3.4,"lo":3.0,"hi":3.8},{"k":"f","v":"Price","t":"F","d":37,"f":4.4,"lo":3.9,"hi":4.9},
    {"k":"f","v":"Price","t":"F","d":41,"f":4.6,"lo":4.1,"hi":5.1},{"k":"f","v":"Price","t":"F","d":45,"f":4.2,"lo":3.6,"hi":4.8},
    {"k":"f","v":"Price","t":"FM","d":7,"f":0.5,"lo":0.1,"hi":0.9},{"k":"f","v":"Price","t":"FM","d":14,"f":0.9,"lo":0.5,"hi":1.3},
    {"k":"f","v":"Price","t":"FM","d":20,"f":1.5,"lo":1.1,"hi":1.9},{"k":"f","v":"Price","t":"FM","d":25,"f":3.3,"lo":2.6,"hi":4.0},
    {"k":"f","v":"Price","t":"FM","d":30,"f":6.2,"lo":5.6,"hi":6.8},{"k":"f","v":"Price","t":"FM","d":35,"f":8.5,"lo":7.8,"hi":9.2},
    {"k":"f","v":"Price","t":"FM","d":41,"f":10,"lo":9.6,"hi":10.4},
    {"k":"f","v":"Price","t":"M","d":7,"f":0.6,"lo":0.2,"hi":1.0},{"k":"f","v":"Price","t":"M","d":14,"f":2.0,"lo":1.4,"hi":2.6},
    {"k":"f","v":"Price","t":"M","d":20,"f":3.3,"lo":2.8,"hi":3.8},{"k":"f","v":"Price","t":"M","d":23,"f":4.2,"lo":3.7,"hi":4.7},
    {"k":"f","v":"Price","t":"M","d":28,"f":7.8,"lo":7.3,"hi":8.3},{"k":"f","v":"Price","t":"M","d":33,"f":9.3,"lo":8.8,"hi":9.8},
    {"k":"f","v":"Price","t":"M","d":37.5,"f":10,"lo":9.6,"hi":10.4},
    {"k":"f","v":"Price","t":"MF","d":7,"f":0.8,"lo":0.3,"hi":1.3},{"k":"f","v":"Price","t":"MF","d":13,"f":2.2,"lo":1.6,"hi":2.8},
    {"k":"f","v":"Price","t":"MF","d":20,"f":3.4,"lo":2.9,"hi":3.9},{"k":"f","v":"Price","t":"MF","d":25,"f":3.7,"lo":3.2,"hi":4.2},
    {"k":"f","v":"Price","t":"MF","d":30,"f":4.0,"lo":3.5,"hi":4.5},{"k":"f","v":"Price","t":"MF","d":35,"f":4.5,"lo":4.0,"hi":5.0},
    {"k":"f","v":"Price","t":"MF","d":41,"f":5.1,"lo":4.5,"hi":5.7},

    {"k":"f","v":"Ragusa","t":"F","d":8,"f":1.3,"lo":0.9,"hi":1.7},{"k":"f","v":"Ragusa","t":"F","d":14,"f":1.7,"lo":1.3,"hi":2.1},
    {"k":"f","v":"Ragusa","t":"F","d":20,"f":1.95,"lo":1.6,"hi":2.3},{"k":"f","v":"Ragusa","t":"F","d":25,"f":2.0,"lo":1.7,"hi":2.3},
    {"k":"f","v":"Ragusa","t":"F","d":31,"f":2.6,"lo":2.2,"hi":3.0},{"k":"f","v":"Ragusa","t":"F","d":37,"f":4.5,"lo":4.0,"hi":5.0},
    {"k":"f","v":"Ragusa","t":"F","d":45,"f":5.5,"lo":5.0,"hi":6.0},
    {"k":"f","v":"Ragusa","t":"FM","d":7,"f":1.0,"lo":0.6,"hi":1.4},{"k":"f","v":"Ragusa","t":"FM","d":14,"f":0.9,"lo":0.5,"hi":1.3},
    {"k":"f","v":"Ragusa","t":"FM","d":20,"f":1.3,"lo":0.9,"hi":1.7},{"k":"f","v":"Ragusa","t":"FM","d":25,"f":3.0,"lo":2.4,"hi":3.6},
    {"k":"f","v":"Ragusa","t":"FM","d":30,"f":4.9,"lo":4.3,"hi":5.5},{"k":"f","v":"Ragusa","t":"FM","d":35,"f":7.2,"lo":6.5,"hi":7.9},
    {"k":"f","v":"Ragusa","t":"FM","d":41,"f":9.3,"lo":8.8,"hi":9.8},
    {"k":"f","v":"Ragusa","t":"M","d":8,"f":0.7,"lo":0.3,"hi":1.1},{"k":"f","v":"Ragusa","t":"M","d":14,"f":1.6,"lo":1.1,"hi":2.1},
    {"k":"f","v":"Ragusa","t":"M","d":20,"f":2.8,"lo":2.3,"hi":3.3},{"k":"f","v":"Ragusa","t":"M","d":25,"f":4.8,"lo":4.2,"hi":5.4},
    {"k":"f","v":"Ragusa","t":"M","d":31,"f":7.1,"lo":6.5,"hi":7.7},{"k":"f","v":"Ragusa","t":"M","d":37,"f":10,"lo":9.5,"hi":10.5},
    {"k":"f","v":"Ragusa","t":"MF","d":8,"f":1.7,"lo":1.2,"hi":2.2},{"k":"f","v":"Ragusa","t":"MF","d":14,"f":1.9,"lo":1.5,"hi":2.3},
    {"k":"f","v":"Ragusa","t":"MF","d":20,"f":2.3,"lo":1.9,"hi":2.7},{"k":"f","v":"Ragusa","t":"MF","d":25,"f":3.7,"lo":3.1,"hi":4.3},
    {"k":"f","v":"Ragusa","t":"MF","d":30,"f":5.2,"lo":4.6,"hi":5.8},{"k":"f","v":"Ragusa","t":"MF","d":35,"f":7.3,"lo":6.6,"hi":8.0},
    {"k":"f","v":"Ragusa","t":"MF","d":41,"f":9.6,"lo":9.1,"hi":10.1},

    {"k":"f","v":"SBCC016","t":"F","d":8,"f":0.9,"lo":0.5,"hi":1.3},{"k":"f","v":"SBCC016","t":"F","d":14,"f":1.3,"lo":0.9,"hi":1.7},
    {"k":"f","v":"SBCC016","t":"F","d":20,"f":1.9,"lo":1.5,"hi":2.3},{"k":"f","v":"SBCC016","t":"F","d":25,"f":3.0,"lo":2.6,"hi":3.4},
    {"k":"f","v":"SBCC016","t":"F","d":31,"f":4.2,"lo":3.8,"hi":4.6},{"k":"f","v":"SBCC016","t":"F","d":37,"f":5.0,"lo":4.6,"hi":5.4},
    {"k":"f","v":"SBCC016","t":"F","d":45.5,"f":7.5,"lo":6.8,"hi":8.2},
    {"k":"f","v":"SBCC016","t":"FM","d":7.5,"f":1.0,"lo":0.6,"hi":1.4},{"k":"f","v":"SBCC016","t":"FM","d":14,"f":1.1,"lo":0.7,"hi":1.5},
    {"k":"f","v":"SBCC016","t":"FM","d":20,"f":1.6,"lo":1.2,"hi":2.0},{"k":"f","v":"SBCC016","t":"FM","d":25,"f":4.5,"lo":3.8,"hi":5.2},
    {"k":"f","v":"SBCC016","t":"FM","d":30,"f":7.2,"lo":6.6,"hi":7.8},{"k":"f","v":"SBCC016","t":"FM","d":35,"f":8.8,"lo":8.2,"hi":9.4},
    {"k":"f","v":"SBCC016","t":"FM","d":41,"f":10,"lo":9.6,"hi":10.4},
    {"k":"f","v":"SBCC016","t":"M","d":7.5,"f":1.0,"lo":0.6,"hi":1.4},{"k":"f","v":"SBCC016","t":"M","d":14,"f":2.8,"lo":2.2,"hi":3.4},
    {"k":"f","v":"SBCC016","t":"M","d":20,"f":4.3,"lo":3.8,"hi":4.8},{"k":"f","v":"SBCC016","t":"M","d":23,"f":4.8,"lo":4.3,"hi":5.3},
    {"k":"f","v":"SBCC016","t":"M","d":27,"f":7.5,"lo":6.9,"hi":8.1},{"k":"f","v":"SBCC016","t":"M","d":31,"f":10,"lo":9.5,"hi":10.5},
    {"k":"f","v":"SBCC016","t":"MF","d":8,"f":0.9,"lo":0.5,"hi":1.3},{"k":"f","v":"SBCC016","t":"MF","d":14,"f":2.5,"lo":2.0,"hi":3.0},
    {"k":"f","v":"SBCC016","t":"MF","d":20,"f":3.7,"lo":3.2,"hi":4.2},{"k":"f","v":"SBCC016","t":"MF","d":25,"f":5.0,"lo":4.4,"hi":5.6},
    {"k":"f","v":"SBCC016","t":"MF","d":30,"f":6.3,"lo":5.8,"hi":6.8},{"k":"f","v":"SBCC016","t":"MF","d":35,"f":7.6,"lo":7.0,"hi":8.2},
    {"k":"f","v":"SBCC016","t":"MF","d":41,"f":8.8,"lo":8.3,"hi":9.3},

    {"k":"f","v":"SBCC046","t":"F","d":8,"f":0.8,"lo":0.4,"hi":1.2},{"k":"f","v":"SBCC046","t":"F","d":14,"f":1.4,"lo":1.0,"hi":1.8},
    {"k":"f","v":"SBCC046","t":"F","d":20,"f":2.0,"lo":1.6,"hi":2.4},{"k":"f","v":"SBCC046","t":"F","d":25,"f":2.2,"lo":1.8,"hi":2.6},
    {"k":"f","v":"SBCC046","t":"F","d":31,"f":2.2,"lo":1.8,"hi":2.6},{"k":"f","v":"SBCC046","t":"F","d":34,"f":2.7,"lo":2.2,"hi":3.2},
    {"k":"f","v":"SBCC046","t":"F","d":37,"f":4.2,"lo":3.6,"hi":4.8},
    {"k":"f","v":"SBCC046","t":"FM","d":7.5,"f":0.7,"lo":0.3,"hi":1.1},{"k":"f","v":"SBCC046","t":"FM","d":14,"f":1.0,"lo":0.6,"hi":1.4},
    {"k":"f","v":"SBCC046","t":"FM","d":20,"f":1.5,"lo":1.1,"hi":1.9},{"k":"f","v":"SBCC046","t":"FM","d":25,"f":3.4,"lo":2.8,"hi":4.0},
    {"k":"f","v":"SBCC046","t":"FM","d":30,"f":5.6,"lo":5.0,"hi":6.2},{"k":"f","v":"SBCC046","t":"FM","d":35,"f":7.7,"lo":7.1,"hi":8.3},
    {"k":"f","v":"SBCC046","t":"FM","d":41,"f":9.7,"lo":9.2,"hi":10.2},
    {"k":"f","v":"SBCC046","t":"M","d":7.5,"f":0.8,"lo":0.4,"hi":1.2},{"k":"f","v":"SBCC046","t":"M","d":14,"f":2.5,"lo":2.0,"hi":3.0},
    {"k":"f","v":"SBCC046","t":"M","d":20,"f":3.9,"lo":3.4,"hi":4.4},{"k":"f","v":"SBCC046","t":"M","d":23,"f":4.4,"lo":3.9,"hi":4.9},
    {"k":"f","v":"SBCC046","t":"M","d":27,"f":7.0,"lo":6.4,"hi":7.6},{"k":"f","v":"SBCC046","t":"M","d":31,"f":10,"lo":9.5,"hi":10.5},
    {"k":"f","v":"SBCC046","t":"MF","d":8,"f":0.9,"lo":0.5,"hi":1.3},{"k":"f","v":"SBCC046","t":"MF","d":14,"f":2.1,"lo":1.6,"hi":2.6},
    {"k":"f","v":"SBCC046","t":"MF","d":20,"f":3.3,"lo":2.8,"hi":3.8},{"k":"f","v":"SBCC046","t":"MF","d":25,"f":4.8,"lo":4.2,"hi":5.4},
    {"k":"f","v":"SBCC046","t":"MF","d":30,"f":6.3,"lo":5.7,"hi":6.9},{"k":"f","v":"SBCC046","t":"MF","d":35,"f":7.6,"lo":7.0,"hi":8.2},
    {"k":"f","v":"SBCC046","t":"MF","d":41,"f":9.0,"lo":8.5,"hi":9.5},

    {"k":"f","v":"Scio","t":"F","d":7,"f":0.5,"lo":0.1,"hi":0.9},{"k":"f","v":"Scio","t":"F","d":14,"f":1.0,"lo":0.6,"hi":1.4},
    {"k":"f","v":"Scio","t":"F","d":20,"f":1.5,"lo":1.1,"hi":1.9},{"k":"f","v":"Scio","t":"F","d":25,"f":2.3,"lo":1.9,"hi":2.7},
    {"k":"f","v":"Scio","t":"F","d":30,"f":3.1,"lo":2.7,"hi":3.5},{"k":"f","v":"Scio","t":"F","d":37,"f":4.0,"lo":3.6,"hi":4.4},
    {"k":"f","v":"Scio","t":"F","d":45,"f":4.2,"lo":3.7,"hi":4.7},
    {"k":"f","v":"Scio","t":"FM","d":7,"f":0.6,"lo":0.2,"hi":1.0},{"k":"f","v":"Scio","t":"FM","d":13,"f":0.5,"lo":0.1,"hi":0.9},
    {"k":"f","v":"Scio","t":"FM","d":20,"f":1.3,"lo":0.8,"hi":1.8},{"k":"f","v":"Scio","t":"FM","d":25,"f":4.2,"lo":3.5,"hi":4.9},
    {"k":"f","v":"Scio","t":"FM","d":30,"f":6.8,"lo":6.1,"hi":7.5},{"k":"f","v":"Scio","t":"FM","d":35,"f":8.7,"lo":8.0,"hi":9.4},
    {"k":"f","v":"Scio","t":"FM","d":41,"f":9.9,"lo":9.5,"hi":10.3},
    {"k":"f","v":"Scio","t":"M","d":7,"f":0.6,"lo":0.2,"hi":1.0},{"k":"f","v":"Scio","t":"M","d":14,"f":2.8,"lo":2.2,"hi":3.4},
    {"k":"f","v":"Scio","t":"M","d":20,"f":4.2,"lo":3.7,"hi":4.7},{"k":"f","v":"Scio","t":"M","d":25,"f":4.8,"lo":4.3,"hi":5.3},
    {"k":"f","v":"Scio","t":"M","d":31,"f":5.9,"lo":5.4,"hi":6.4},{"k":"f","v":"Scio","t":"M","d":34,"f":7.8,"lo":7.2,"hi":8.4},
    {"k":"f","v":"Scio","t":"M","d":37.5,"f":10,"lo":9.5,"hi":10.5},
    {"k":"f","v":"Scio","t":"MF","d":7,"f":0.7,"lo":0.3,"hi":1.1},{"k":"f","v":"Scio","t":"MF","d":14,"f":1.7,"lo":1.2,"hi":2.2},
    {"k":"f","v":"Scio","t":"MF","d":20,"f":2.5,"lo":2.0,"hi":3.0},{"k":"f","v":"Scio","t":"MF","d":25,"f":3.3,"lo":2.8,"hi":3.8},
    {"k":"f","v":"Scio","t":"MF","d":30,"f":4.0,"lo":3.5,"hi":4.5},{"k":"f","v":"Scio","t":"MF","d":35,"f":5.0,"lo":4.4,"hi":5.6},
    {"k":"f","v":"Scio","t":"MF","d":41,"f":6.1,"lo":5.5,"hi":6.7},

    {"k":"f","v":"WA1614-95","t":"F","d":8,"f":0.7,"lo":0.3,"hi":1.1},{"k":"f","v":"WA1614-95","t":"F","d":14,"f":1.0,"lo":0.7,"hi":1.3},
    {"k":"f","v":"WA1614-95","t":"F","d":20,"f":1.3,"lo":1.0,"hi":1.6},{"k":"f","v":"WA1614-95","t":"F","d":25,"f":1.6,"lo":1.3,"hi":1.9},
    {"k":"f","v":"WA1614-95","t":"F","d":31,"f":1.9,"lo":1.6,"hi":2.2},{"k":"f","v":"WA1614-95","t":"F","d":37,"f":2.05,"lo":1.8,"hi":2.3},
    {"k":"f","v":"WA1614-95","t":"F","d":45,"f":2.2,"lo":1.9,"hi":2.5},
    {"k":"f","v":"WA1614-95","t":"FM","d":7.5,"f":0.6,"lo":0.2,"hi":1.0},{"k":"f","v":"WA1614-95","t":"FM","d":14,"f":0.9,"lo":0.5,"hi":1.3},
    {"k":"f","v":"WA1614-95","t":"FM","d":20,"f":1.4,"lo":0.9,"hi":1.9},{"k":"f","v":"WA1614-95","t":"FM","d":25,"f":3.0,"lo":2.4,"hi":3.6},
    {"k":"f","v":"WA1614-95","t":"FM","d":30,"f":4.8,"lo":4.2,"hi":5.4},{"k":"f","v":"WA1614-95","t":"FM","d":35,"f":7.1,"lo":6.4,"hi":7.8},
    {"k":"f","v":"WA1614-95","t":"FM","d":41,"f":9.5,"lo":9.0,"hi":10.0},
    {"k":"f","v":"WA1614-95","t":"M","d":8,"f":0.6,"lo":0.2,"hi":1.0},{"k":"f","v":"WA1614-95","t":"M","d":14,"f":2.8,"lo":2.1,"hi":3.5},
    {"k":"f","v":"WA1614-95","t":"M","d":20,"f":4.5,"lo":3.8,"hi":5.2},{"k":"f","v":"WA1614-95","t":"M","d":25,"f":5.3,"lo":4.6,"hi":6.0},
    {"k":"f","v":"WA1614-95","t":"M","d":30,"f":5.9,"lo":5.3,"hi":6.5},{"k":"f","v":"WA1614-95","t":"M","d":34,"f":7.8,"lo":7.2,"hi":8.4},
    {"k":"f","v":"WA1614-95","t":"M","d":37,"f":10,"lo":9.5,"hi":10.5},
    {"k":"f","v":"WA1614-95","t":"MF","d":8,"f":0.8,"lo":0.4,"hi":1.2},{"k":"f","v":"WA1614-95","t":"MF","d":14,"f":1.8,"lo":1.3,"hi":2.3},
    {"k":"f","v":"WA1614-95","t":"MF","d":20,"f":2.7,"lo":2.2,"hi":3.2},{"k":"f","v":"WA1614-95","t":"MF","d":25,"f":3.4,"lo":2.9,"hi":3.9},
    {"k":"f","v":"WA1614-95","t":"MF","d":30,"f":4.1,"lo":3.6,"hi":4.6},{"k":"f","v":"WA1614-95","t":"MF","d":35,"f":4.8,"lo":4.2,"hi":5.4},
    {"k":"f","v":"WA1614-95","t":"MF","d":41,"f":5.5,"lo":4.9,"hi":6.1}
  ]},
  "spacing": 7.5,
  "hconcat": [
    {
      "transform": [{"filter": {"field": "v", "oneOf": ["Dicktoo","Eight-twelve","Esterel","Kold","Price","Ragusa","SBCC046","Scio","WA1614-95"]}}],
      "facet": {
        "field": "v", "type": "nominal",
        "sort": ["Dicktoo","Eight-twelve","Esterel","Kold","Price","Ragusa","SBCC046","Scio","WA1614-95"],
        "header": {"labels": false, "labelExpr": "''", "labelFontSize": 0, "labelPadding": 0, "title": "Days after vernalization", "titleOrient": "bottom", "titleAnchor": "middle", "titleAlign": "left", "titleFontSize": 19, "titleFontWeight": "normal", "titleFont": "Liberation Sans", "titleColor": "#1a1a1a", "titlePadding": 3}
      },
      "columns": 3,
      "spacing": {"row": 6.5, "column": 7.5},
      "spec": {
        "width": 157,
        "height": 188,
        "layer": [
          {
            "transform": [{"filter": "datum.k == 'f'"}],
            "mark": {"type": "area", "interpolate": "monotone", "color": "#999999", "opacity": 0.4},
            "encoding": {
              "x": {"field": "d", "type": "quantitative", "scale": {"domain": [-2.5, 52.5], "nice": false, "zero": false},
                    "axis": {"values": [0,10,20,30,40,50], "title": null, "labelFontSize": 13, "labelOverlap": false}},
              "y": {"field": "lo", "type": "quantitative", "scale": {"domain": [-0.5, 12.84], "nice": false, "zero": false},
                    "axis": {"values": [0,1,2,3,4,5,6,7,8,9,10], "title": null, "labelFontSize": 11.5, "labelOverlap": false, "labelSeparation": -30, "labelBound": false}},
              "y2": {"field": "hi"},
              "detail": {"field": "t"}
            }
          },
          {
            "transform": [{"filter": "datum.k == 's'"}],
            "mark": {"type": "rule", "color": "#d4d4d4", "strokeWidth": 3.5},
            "encoding": {"x": {"datum": 10}, "y": {"datum": -0.5}, "y2": {"datum": 10.5}}
          },
          {
            "transform": [{"filter": "datum.k == 's'"}],
            "mark": {"type": "rule", "color": "#000000", "strokeWidth": 1, "strokeDash": [4, 3]},
            "encoding": {"x": {"datum": -2.5}, "x2": {"datum": 52.5}, "y": {"datum": 2}}
          },
          {
            "transform": [{"filter": "datum.k == 'f'"}],
            "mark": {"type": "line", "interpolate": "monotone", "color": "#000000", "strokeWidth": 1.1},
            "encoding": {
              "x": {"field": "d", "type": "quantitative"},
              "y": {"field": "f", "type": "quantitative"},
              "detail": {"field": "t"},
              "strokeDash": {"field": "t", "type": "nominal", "legend": null,
                             "scale": {"domain": ["MF","M","FM","F"], "range": [[7,2.5,1.5,2.5],[1,0],[1.5,2.5,5,2.5],[1,0]]}}
            }
          },
          {
            "transform": [{"filter": "datum.k == 'p'"}],
            "mark": {"type": "point", "stroke": "#000000", "strokeWidth": 1, "opacity": 0.85},
            "encoding": {
              "x": {"field": "d", "type": "quantitative"},
              "y": {"field": "s", "type": "quantitative"},
              "shape": {"field": "t", "type": "nominal", "title": "Treatment",
                        "scale": {"domain": ["F","FM","M","MF"], "range": ["circle","square","circle","triangle-up"]},
                        "legend": {"orient": "none", "legendX": 509, "legendY": 456, "rowPadding": 9.5, "titlePadding": 9, "symbolOffset": 4, "labelOffset": 12,
                                   "encoding": {"symbols": {"stroke": {"value": "#000000"}, "strokeWidth": {"value": 1}, "size": {"value": 24}}}}},
              "fill": {"field": "t", "type": "nominal", "title": "Treatment",
                       "scale": {"domain": ["F","FM","M","MF"], "range": ["transparent","#000000","#000000","transparent"]},
                       "legend": {"orient": "none", "legendX": 509, "legendY": 456, "rowPadding": 9.5, "titlePadding": 9, "symbolOffset": 4, "labelOffset": 12,
                                   "encoding": {"symbols": {"stroke": {"value": "#000000"}, "strokeWidth": {"value": 1}, "size": {"value": 24}}}}},
              "size": {"field": "n", "type": "ordinal", "title": ["Number of", "Replicates"],
                       "scale": {"domain": [1, 2, 3], "range": [12, 38, 54]},
                       "legend": {"orient": "none", "legendX": 600, "legendY": 449, "symbolType": "circle", "symbolFillColor": "#000000", "symbolStrokeColor": "#000000", "rowPadding": 9.5, "titlePadding": 2, "titleLineHeight": 20, "symbolOffset": 4, "labelOffset": 10}}
            }
          },
          {
            "transform": [{"filter": "datum.k == 's'"}],
            "mark": {"type": "rect", "color": "#d9d9d9"},
            "encoding": {"x": {"datum": -2.5}, "x2": {"datum": 52.5}, "y": {"datum": 10.5}, "y2": {"datum": 12.84}}
          },
          {
            "transform": [{"filter": "datum.k == 's'"}],
            "mark": {"type": "text", "fontSize": 17, "color": "#1a1a1a", "font": "Liberation Sans", "baseline": "middle", "align": "center"},
            "encoding": {"x": {"datum": 25}, "y": {"datum": 11.67}, "text": {"field": "v"}}
          },
          {
            "transform": [{"filter": "datum.k == 's'"}],
            "mark": {"type": "rect", "filled": false, "stroke": "#333333", "strokeWidth": 1},
            "encoding": {"x": {"datum": -2.5}, "x2": {"datum": 52.5}, "y": {"datum": -0.5}, "y2": {"datum": 10.5}}
          },
          {
            "transform": [{"filter": "datum.k == 'y'"}],
            "mark": {"type": "text", "fontSize": 11.5, "color": "#333333", "font": "Liberation Sans", "baseline": "middle", "align": "right"},
            "encoding": {"x": {"datum": -4.6}, "y": {"field": "yv", "type": "quantitative"}, "text": {"field": "yv", "type": "quantitative"}}
          }
        ]
      }
    },
    {
      "transform": [{"filter": {"field": "v", "oneOf": ["Haruna_Nijo","SBCC016"]}}],
      "facet": {
        "field": "v", "type": "nominal",
        "sort": ["Haruna_Nijo","SBCC016"],
        "header": {"labels": false, "labelExpr": "''", "labelFontSize": 0, "labelPadding": 0, "title": null}
      },
      "columns": 1,
      "spacing": {"row": 6.5},
      "spec": {
        "width": 157,
        "height": 188,
        "layer": [
          {
            "transform": [{"filter": "datum.k == 'f'"}],
            "mark": {"type": "area", "interpolate": "monotone", "color": "#999999", "opacity": 0.4},
            "encoding": {
              "x": {"field": "d", "type": "quantitative", "scale": {"domain": [-2.5, 52.5], "nice": false, "zero": false},
                    "axis": {"values": [0,10,20,30,40,50], "title": null, "labelFontSize": 13, "labelOverlap": false}},
              "y": {"field": "lo", "type": "quantitative", "scale": {"domain": [-0.5, 12.84], "nice": false, "zero": false}, "axis": null},
              "y2": {"field": "hi"},
              "detail": {"field": "t"}
            }
          },
          {
            "transform": [{"filter": "datum.k == 's'"}],
            "mark": {"type": "rule", "color": "#d4d4d4", "strokeWidth": 3.5},
            "encoding": {"x": {"datum": 10}, "y": {"datum": -0.5, "axis": null}, "y2": {"datum": 10.5}}
          },
          {
            "transform": [{"filter": "datum.k == 's'"}],
            "mark": {"type": "rule", "color": "#000000", "strokeWidth": 1, "strokeDash": [4, 3]},
            "encoding": {"x": {"datum": -2.5}, "x2": {"datum": 52.5}, "y": {"datum": 2, "axis": null}}
          },
          {
            "transform": [{"filter": "datum.k == 'f'"}],
            "mark": {"type": "line", "interpolate": "monotone", "color": "#000000", "strokeWidth": 1.1},
            "encoding": {
              "x": {"field": "d", "type": "quantitative"},
              "y": {"field": "f", "type": "quantitative", "axis": null},
              "detail": {"field": "t"},
              "strokeDash": {"field": "t", "type": "nominal", "legend": null,
                             "scale": {"domain": ["MF","M","FM","F"], "range": [[7,2.5,1.5,2.5],[1,0],[1.5,2.5,5,2.5],[1,0]]}}
            }
          },
          {
            "transform": [{"filter": "datum.k == 'p'"}],
            "mark": {"type": "point", "stroke": "#000000", "strokeWidth": 1, "opacity": 0.85},
            "encoding": {
              "x": {"field": "d", "type": "quantitative"},
              "y": {"field": "s", "type": "quantitative", "axis": null},
              "shape": {"field": "t", "type": "nominal", "title": "Treatment",
                        "scale": {"domain": ["F","FM","M","MF"], "range": ["circle","square","circle","triangle-up"]},
                        "legend": {"orient": "none", "legendX": 509, "legendY": 456, "rowPadding": 9.5, "titlePadding": 9, "symbolOffset": 4, "labelOffset": 12,
                                   "encoding": {"symbols": {"stroke": {"value": "#000000"}, "strokeWidth": {"value": 1}, "size": {"value": 24}}}}},
              "fill": {"field": "t", "type": "nominal", "title": "Treatment",
                       "scale": {"domain": ["F","FM","M","MF"], "range": ["transparent","#000000","#000000","transparent"]},
                       "legend": {"orient": "none", "legendX": 509, "legendY": 456, "rowPadding": 9.5, "titlePadding": 9, "symbolOffset": 4, "labelOffset": 12,
                                   "encoding": {"symbols": {"stroke": {"value": "#000000"}, "strokeWidth": {"value": 1}, "size": {"value": 24}}}}},
              "size": {"field": "n", "type": "ordinal", "title": ["Number of", "Replicates"],
                       "scale": {"domain": [1, 2, 3], "range": [12, 38, 54]},
                       "legend": {"orient": "none", "legendX": 600, "legendY": 449, "symbolType": "circle", "symbolFillColor": "#000000", "symbolStrokeColor": "#000000", "rowPadding": 9.5, "titlePadding": 2, "titleLineHeight": 20, "symbolOffset": 4, "labelOffset": 10}}
            }
          },
          {
            "transform": [{"filter": "datum.k == 's'"}],
            "mark": {"type": "rect", "color": "#d9d9d9"},
            "encoding": {"x": {"datum": -2.5}, "x2": {"datum": 52.5}, "y": {"datum": 10.5, "axis": null}, "y2": {"datum": 12.84}}
          },
          {
            "transform": [{"filter": "datum.k == 's'"}],
            "mark": {"type": "text", "fontSize": 17, "color": "#1a1a1a", "font": "Liberation Sans", "baseline": "middle", "align": "center"},
            "encoding": {"x": {"datum": 25}, "y": {"datum": 11.67, "axis": null}, "text": {"field": "v"}}
          },
          {
            "transform": [{"filter": "datum.k == 's'"}],
            "mark": {"type": "rect", "filled": false, "stroke": "#333333", "strokeWidth": 1},
            "encoding": {"x": {"datum": -2.5}, "x2": {"datum": 52.5}, "y": {"datum": -0.5, "axis": null}, "y2": {"datum": 10.5}}
          }
        ]
      }
    }
  ],
  "resolve": {"scale": {"x": "shared", "y": "shared", "shape": "shared", "fill": "shared", "size": "shared", "strokeDash": "shared"}, "legend": {"shape": "shared", "fill": "shared", "size": "shared"}},
  "config": {
    "font": "Liberation Sans",
    "view": {"stroke": null},
    "axis": {"grid": false, "domain": false, "tickColor": "#333333", "tickSize": 4, "labelColor": "#333333", "labelPadding": 2, "labelFont": "Liberation Sans", "labelOverlap": false},
    "axisX": {"tickCount": 6, "labelFontSize": 13, "labelOverlap": false, "tickSize": 3},
    "axisY": {"labelFontSize": 11.5, "labelOverlap": false, "labelSeparation": -30, "labelBound": false},
    "axisLeft": {"labelOverlap": false, "labelSeparation": -30},
    "axisQuantitative": {"labelOverlap": false},
    "legend": {"titleFontSize": 15, "titleFontWeight": "normal", "titleColor": "#1a1a1a", "labelFontSize": 14, "labelColor": "#1a1a1a", "titleFont": "Liberation Sans", "labelFont": "Liberation Sans"}
  }
}
